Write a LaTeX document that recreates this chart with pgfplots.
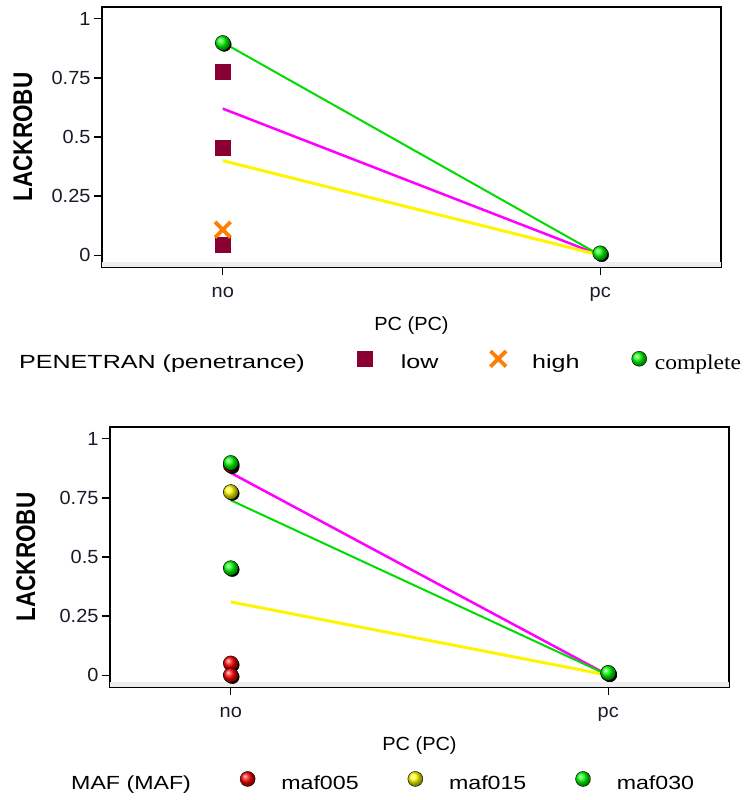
\documentclass[border=0pt]{standalone}
\usepackage{fontspec}
\setmainfont{Liberation Sans}
\newfontfamily\tickfont[FakeStretch=1.05]{Liberation Sans}
\newfontfamily\legfont[FakeStretch=1.32]{Liberation Sans}
\newfontfamily\legfontb[FakeStretch=1.22]{Liberation Sans}
\newfontfamily\serifleg[FakeStretch=1.12]{Liberation Serif}
\usepackage{pgfplots}
\pgfplotsset{compat=1.18}

\definecolor{lowred}{RGB}{139,0,51}
\definecolor{highorange}{RGB}{255,128,0}
\definecolor{cgreen}{RGB}{0,220,0}
\definecolor{bgreen}{RGB}{0,255,0}
\definecolor{cmag}{RGB}{255,0,255}
\definecolor{cyel}{RGB}{255,245,0}
\definecolor{tickcol}{RGB}{25,25,40}

\pgfplotsset{
  panel/.style={
    scale only axis, width=619pt, height=260pt,
    xmin=-0.32, xmax=1.32, ymin=-0.05, ymax=1.05,
    xtick={0,1}, xticklabels={no,pc},
    ytick={0,0.25,0.5,0.75,1}, yticklabels={0,0.25,0.5,0.75,1},
    tick align=outside, tick pos=left, major tick length=8pt,
    axis line style={line width=1.5pt},
    every tick/.style={line width=1.2pt, black},
    ticklabel style={font=\tickfont\fontsize{19}{20}\selectfont, text=tickcol},
    xticklabel style={yshift=-9pt},
    xlabel={PC (PC)},
    xlabel style={font=\tickfont\fontsize{19}{20}\selectfont, at={(axis description cs:0.5,-0.225)}, anchor=center},
    ylabel={\scalebox{1}[1.2]{\bfseries LACKROBU}},
    ylabel style={font=\fontsize{22.5}{24}\selectfont, at={(axis description cs:-0.128,0.5)}, anchor=center},
    legend columns=-1,
    legend style={draw=none, fill=none, inner sep=0pt, anchor=west,
      cells={anchor=west}},
    legend image code/.code={\draw[##1] plot coordinates {(0pt,4pt)};},
  },
  ballshadow/.style={forget plot, only marks, mark=*, black, mark size=7pt,
    every mark/.append style={xshift=1.5pt, yshift=-1.5pt}},
}

\begin{document}
\begin{tikzpicture}
\useasboundingbox (0,0) rectangle (744pt,-800pt);

% top panel: penetrance
\begin{axis}[panel, at={(102pt,-7pt)}, anchor=north west,
  legend style={at={(axis description cs:-0.181,-0.365)},
    font=\legfont\fontsize{19}{20}\selectfont,
    /tikz/every odd column/.append style={column sep=27pt},
    /tikz/every even column/.append style={column sep=50pt}}]
\fill[gray!13] (rel axis cs:0,0) rectangle (rel axis cs:1,0.02);
\addlegendimage{empty legend}
\addlegendentry{PENETRAN (penetrance)}
\addplot[forget plot, cmag, line width=2.5pt] coordinates {(0,0.62) (1,0)};
\addplot[forget plot, cyel, line width=3pt] coordinates {(0,0.40) (1,0)};
\addplot[forget plot, cgreen, line width=2pt] coordinates {(0,0.90) (1,0)};
\addplot[only marks, mark=square*, mark size=7.5pt, lowred] coordinates {
  (0,0.775) (0,0.453) (0,0.045)};
\addlegendentry{low}
\addplot[only marks, mark=x, mark size=11pt, highorange, mark options={line width=3.8pt}] coordinates {
  (0,0.108)};
\addlegendentry{\hspace{-3pt}high\hspace{-4pt}}
\addplot[ballshadow] coordinates {(0,0.898) (1,0.008)};
\addplot[only marks, mark=ball, ball color=bgreen, mark size=7.5pt] coordinates {
  (0,0.898) (1,0.008)};
\addlegendentry{\hspace{-21pt}\serifleg\fontsize{21}{22}\selectfont complete}
\end{axis}

% bottom panel: MAF
\begin{axis}[panel, at={(110pt,-427pt)}, anchor=north west,
  ylabel style={at={(axis description cs:-0.136,0.5)}},
  legend style={at={(axis description cs:-0.105,-0.365)},
    font=\legfontb\fontsize{19}{20}\selectfont,
    /tikz/every odd column/.append style={column sep=24pt},
    /tikz/every even column/.append style={column sep=47pt}}]
\fill[gray!13] (rel axis cs:0,0) rectangle (rel axis cs:1,0.02);
\addlegendimage{empty legend}
\addlegendentry{MAF (MAF)}
\addplot[forget plot, cmag, line width=2.5pt] coordinates {(0,0.856) (1,0)};
\addplot[forget plot, cyel, line width=3pt] coordinates {(0,0.31) (1,0)};
\addplot[forget plot, cgreen, line width=2pt] coordinates {(0,0.74) (1,0)};
\addplot[ballshadow] coordinates {(0,0.888) (0,0.05) (0,0.0) (1,0.008)};
\addplot[only marks, mark=ball, ball color=red, mark size=7.5pt] coordinates {
  (0,0.888) (0,0.05) (0,0.0) (1,0.008)};
\addlegendentry{maf005}
\addplot[ballshadow] coordinates {(0,0.775) (1,0.008)};
\addplot[only marks, mark=ball, ball color=yellow, mark size=7.5pt] coordinates {
  (0,0.775) (1,0.008)};
\addlegendentry{maf015}
\addplot[ballshadow] coordinates {(0,0.898) (0,0.453) (1,0.01)};
\addplot[only marks, mark=ball, ball color=bgreen, mark size=7.5pt] coordinates {
  (0,0.898) (0,0.453) (1,0.01)};
\addlegendentry{maf030}
\end{axis}
\end{tikzpicture}
\end{document}
